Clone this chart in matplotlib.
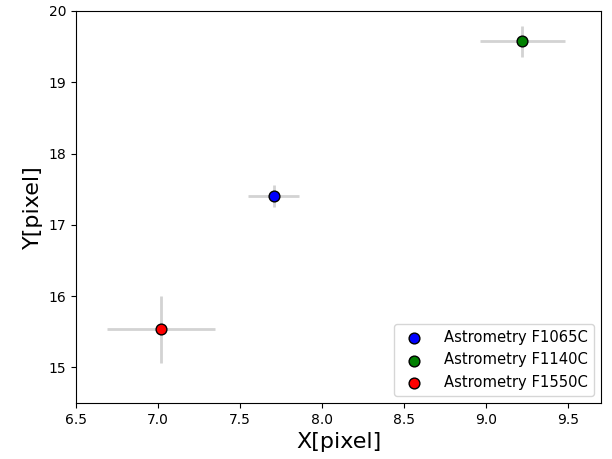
import matplotlib
matplotlib.use("Agg")
import matplotlib.pyplot as plt

labels = ["Astrometry F1065C", "Astrometry F1140C", "Astrometry F1550C"]
colors = ["blue", "green", "red"]
x = [7.705, 9.22, 7.02]
y = [17.40, 19.575, 15.534]
xerr = [0.155, 0.26, 0.33]
yerr = [0.155, 0.22, 0.47]

fig = plt.figure(figsize=(6.12, 4.59), dpi=100)
W, H = 612, 459
ax = fig.add_axes([76 / W, 1 - 403 / H, (601 - 76) / W, (403 - 11) / H])

for xi, yi, xe, ye, c, lab in zip(x, y, xerr, yerr, colors, labels):
    ax.errorbar(xi, yi, xerr=xe, yerr=ye, fmt="none", ecolor="lightgray", elinewidth=2, zorder=1)
    ax.scatter(xi, yi, s=60, color=c, edgecolors="black", linewidths=1, zorder=3, label=lab)

ax.set_xlim(6.5, 9.7)
ax.set_ylim(14.5, 20)
ax.set_xlabel("X[pixel]", fontsize=16)
ax.set_ylabel("Y[pixel]", fontsize=16)
ax.legend(loc="lower right", fontsize=10.6, handletextpad=1.0)

fig.savefig("out.png", dpi=100)
